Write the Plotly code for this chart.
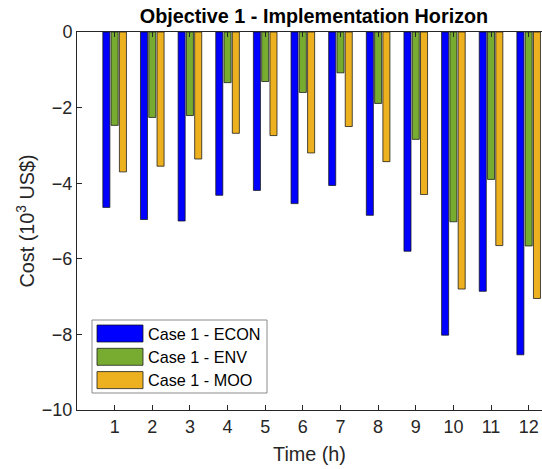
import plotly.graph_objects as go

# Hourly cost per case (10^3 US$), hours 1..12
hours = [1, 2, 3, 4, 5, 6, 7, 8, 9, 10, 11, 12]
econ = [-4.64, -4.96, -5.00, -4.32, -4.19, -4.54, -4.06, -4.85, -5.80, -8.02, -6.86, -8.54]
env = [-2.47, -2.26, -2.21, -1.34, -1.31, -1.60, -1.08, -1.89, -2.84, -5.02, -3.90, -5.66]
moo = [-3.70, -3.55, -3.36, -2.68, -2.74, -3.20, -2.50, -3.43, -4.30, -6.80, -5.65, -7.05]

series_names = ["Case 1 - ECON", "Case 1 - ENV", "Case 1 - MOO"]
series_values = [econ, env, moo]
series_colors = ["#0000FF", "#77AC30", "#EDB120"]

y_ticks = [-10, -8, -6, -4, -2, 0]

W, H = 542, 469
L, R, T, B = 77, 0, 32, 59
plot_w = W - L - R
plot_h = H - T - B
px_per_hour = 37.64

FONT = "Liberation Sans, Arial, sans-serif"
AX = "#262626"

fig = go.Figure()
for name, vals, col in zip(series_names, series_values, series_colors):
    fig.add_trace(go.Bar(
        x=hours, y=vals, name=name,
        marker=dict(color=col, line=dict(color="rgba(20,20,20,0.75)", width=1)),
        showlegend=False,
    ))

# Boxed legend with wide swatches
def px_x(px):
    return (px - L) / plot_w

def px_y(py):
    return (H - B - py) / plot_h

fig.add_shape(type="rect", xref="paper", yref="paper",
              x0=px_x(92), x1=px_x(267), y0=px_y(393), y1=px_y(320),
              line=dict(color="#8a8a8a", width=1), fillcolor="white", layer="above")
for i, (name, col) in enumerate(zip(series_names, series_colors)):
    top = 325 + i * 23.3
    fig.add_shape(type="rect", xref="paper", yref="paper",
                  x0=px_x(97), x1=px_x(143), y0=px_y(top + 17), y1=px_y(top),
                  line=dict(color="rgba(20,20,20,0.75)", width=1), fillcolor=col, layer="above")
    fig.add_annotation(text=name, xref="paper", yref="paper",
                       x=px_x(146), y=px_y(top + 8.5), xanchor="left", yanchor="middle",
                       showarrow=False, font=dict(family=FONT, size=16.2, color="black"))

fig.update_layout(
    width=W, height=H,
    margin=dict(l=L, r=R, t=T, b=B, autoexpand=False),
    paper_bgcolor="white", plot_bgcolor="white",
    barmode="group", bargap=0.34, bargroupgap=0.15,
    font=dict(family=FONT, size=18, color=AX),
    title=dict(text="<b>Objective 1 - Implementation Horizon</b>",
               x=314 / W, xref="container", xanchor="center",
               y=1 - 16 / H, yref="container", yanchor="middle",
               font=dict(family=FONT, size=19.8, color="black")),
    xaxis=dict(range=[0, plot_w / px_per_hour], tickvals=hours,
               ticks="inside", ticklen=5, tickcolor=AX,
               showline=True, linecolor=AX, linewidth=1, mirror="ticks",
               showgrid=False, zeroline=False,
               tickfont=dict(size=18, color=AX),
               title=dict(text="Time (h)", font=dict(size=19.8, color=AX), standoff=11)),
    yaxis=dict(range=[-10, 0], tickvals=y_ticks,
               ticks="inside", ticklen=5, tickcolor=AX,
               showline=True, linecolor=AX, linewidth=1,
               showgrid=False, zeroline=False,
               tickfont=dict(size=18, color=AX),
               title=dict(text="Cost (10<sup>3</sup> US$)", font=dict(size=19.8, color=AX), standoff=1)),
)

fig.write_html("out.html")
